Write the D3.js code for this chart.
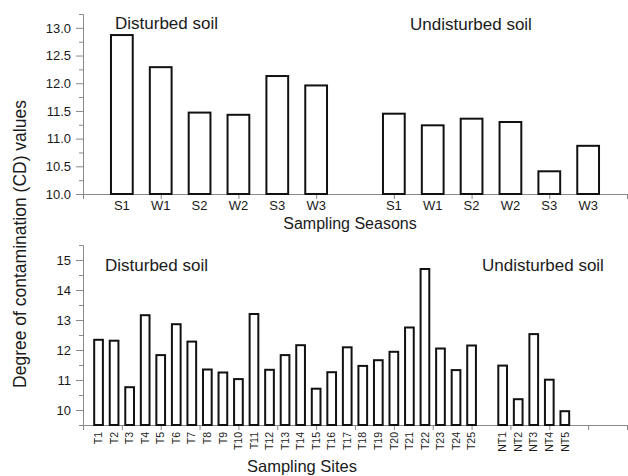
<!DOCTYPE html>
<html lang="en">
<head>
    <meta charset="UTF-8">
    <title>Degree of contamination</title>
    <script src="https://cdn.jsdelivr.net/npm/d3@7"></script>
    <style>
        body { margin: 0; background: #fff; }
        text { font-family: "Liberation Sans", Arial, sans-serif; fill: #1a1a1a; }
        .axis path, .axis line { stroke: #8a8a8a; }
        .axis text { font-size: 13px; fill: #1a1a1a; }
    </style>
</head>
<body>
<script>
    // top panel: seasons
    const seasons = ["S1", "W1", "S2", "W2", "S3", "W3"];
    const seasonDisturbed = [12.87, 12.29, 11.47, 11.43, 12.13, 11.96];
    const seasonUndisturbed = [11.45, 11.24, 11.36, 11.30, 10.41, 10.87];
    const seasonTicks = [10.0, 10.5, 11.0, 11.5, 12.0, 12.5, 13.0];

    // bottom panel: sites
    const sitesDisturbed = ["T1", "T2", "T3", "T4", "T5", "T6", "T7", "T8", "T9", "T10",
        "T11", "T12", "T13", "T14", "T15", "T16", "T17", "T18", "T19", "T20",
        "T21", "T22", "T23", "T24", "T25"];
    const cdDisturbed = [12.34, 12.31, 10.76, 13.16, 11.83, 12.86, 12.28, 11.35, 11.25, 11.03,
        13.20, 11.34, 11.83, 12.16, 10.71, 11.26, 12.09, 11.47, 11.66, 11.94,
        12.75, 14.70, 12.05, 11.33, 12.15];
    const sitesUndisturbed = ["NT1", "NT2", "NT3", "NT4", "NT5"];
    const cdUndisturbed = [11.48, 10.36, 12.53, 11.01, 9.96];
    const siteTicks = [10, 11, 12, 13, 14, 15];

    const width = 628, height = 476;
    const barW = 0.56;

    const svg = d3.select('body').append('svg')
        .attr('width', width)
        .attr('height', height);

    // ---------- top ----------
    const x1 = d3.scaleLinear().domain([0, 14]).range([83, 627]);
    const y1 = d3.scaleLinear().domain([10, 13.25]).range([194, 14]);

    const seasonBars = seasons.map((s, i) => ({name: s, pos: i + 1, v: seasonDisturbed[i]}))
        .concat(seasons.map((s, i) => ({name: s, pos: i + 8, v: seasonUndisturbed[i]})));

    // minor y ticks
    svg.append('g').attr('class', 'axis')
        .attr('transform', 'translate(83,0)')
        .call(d3.axisLeft(y1).tickValues(d3.range(10.25, 13.3, 0.5)).tickSize(4).tickSizeOuter(0).tickFormat(''));
    svg.append('g').attr('class', 'axis')
        .attr('transform', 'translate(83,0)')
        .call(d3.axisLeft(y1).tickValues(seasonTicks).tickSize(7).tickPadding(5).tickSizeOuter(0).tickFormat(d3.format('.1f')));

    svg.append('g').attr('class', 'axis')
        .attr('transform', 'translate(0,194)')
        .call(d3.axisBottom(x1).tickValues(d3.range(0, 15, 2)).tickSize(5).tickSizeOuter(0).tickFormat(''));

    svg.append('g').selectAll('rect')
        .data(seasonBars)
        .enter().append('rect')
        .attr('x', d => x1(d.pos - barW / 2))
        .attr('width', d => x1(barW) - x1(0))
        .attr('y', d => y1(d.v))
        .attr('height', d => y1(10) - y1(d.v))
        .attr('fill', '#fff')
        .attr('stroke', '#111')
        .attr('stroke-width', 2);

    svg.append('g').selectAll('text')
        .data(seasonBars)
        .enter().append('text')
        .attr('x', d => x1(d.pos))
        .attr('y', 210)
        .attr('text-anchor', 'middle')
        .style('font-size', '13px')
        .text(d => d.name);

    svg.append('text').attr('x', 115).attr('y', 29).style('font-size', '17px').text('Disturbed soil');
    svg.append('text').attr('x', 410).attr('y', 29.5).style('font-size', '17px').text('Undisturbed soil');
    svg.append('text').attr('x', 350).attr('y', 229).attr('text-anchor', 'middle')
        .style('font-size', '16px').text('Sampling Seasons');

    // ---------- bottom ----------
    const x2 = d3.scaleLinear().domain([0, 35]).range([83, 627]);
    const y2 = d3.scaleLinear().domain([9.5, 15.5]).range([425, 245]);

    const siteBars = sitesDisturbed.map((s, i) => ({name: s, pos: i + 1, v: cdDisturbed[i]}))
        .concat(sitesUndisturbed.map((s, i) => ({name: s, pos: i + 27, v: cdUndisturbed[i]})));

    svg.append('g').attr('class', 'axis')
        .attr('transform', 'translate(83,0)')
        .call(d3.axisLeft(y2).tickValues(d3.range(9.5, 15.6, 1)).tickSize(4).tickSizeOuter(0).tickFormat(''));
    svg.append('g').attr('class', 'axis')
        .attr('transform', 'translate(83,0)')
        .call(d3.axisLeft(y2).tickValues(siteTicks).tickSize(7).tickPadding(5).tickSizeOuter(0).tickFormat(d3.format('d')));

    svg.append('g').attr('class', 'axis')
        .attr('transform', 'translate(0,425)')
        .call(d3.axisBottom(x2).tickValues(d3.range(0, 35.1, 2.5)).tickSize(5).tickSizeOuter(0).tickFormat(''));

    svg.append('g').selectAll('rect')
        .data(siteBars)
        .enter().append('rect')
        .attr('x', d => x2(d.pos - barW / 2))
        .attr('width', d => x2(barW) - x2(0))
        .attr('y', d => y2(d.v))
        .attr('height', d => y2(9.5) - y2(d.v))
        .attr('fill', '#fff')
        .attr('stroke', '#111')
        .attr('stroke-width', 2);

    svg.append('g').selectAll('text')
        .data(siteBars)
        .enter().append('text')
        .attr('transform', d => `translate(${x2(d.pos)},432) rotate(-90)`)
        .attr('dy', '0.35em')
        .attr('text-anchor', 'end')
        .style('font-size', '10.5px')
        .text(d => d.name);

    svg.append('text').attr('x', 105).attr('y', 271).style('font-size', '17px').text('Disturbed soil');
    svg.append('text').attr('x', 482).attr('y', 271).style('font-size', '17px').text('Undisturbed soil');
    svg.append('text').attr('x', 302).attr('y', 472).attr('text-anchor', 'middle')
        .style('font-size', '16.5px').text('Sampling Sites');

    // shared y title
    svg.append('text')
        .attr('transform', 'translate(26,244) rotate(-90)')
        .attr('text-anchor', 'middle')
        .style('font-size', '17.5px')
        .text('Degree of contamination (CD) values');
</script>
</body>
</html>
